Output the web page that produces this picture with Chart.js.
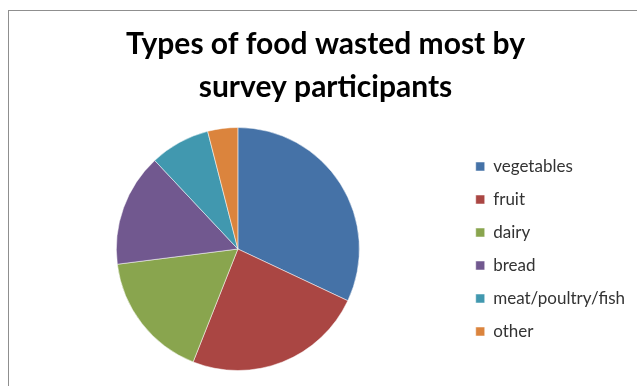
<!DOCTYPE html>
<html>
<head>
<meta charset="utf-8">
<script src="https://cdn.jsdelivr.net/npm/chart.js@4/dist/chart.umd.min.js"></script>
<style>
  html, body { margin: 0; padding: 0; background: #fff; overflow: hidden; }
  #wrap { position: relative; width: 637px; height: 386px; }
  #myChart { position: absolute; left: 0; top: 0; }
  #frame { position: absolute; left: 8px; top: 10px; right: -5px; bottom: -5px;
           border-top: 1px solid #8f8f8f; border-left: 1px solid #8f8f8f; pointer-events: none; }
</style>
</head>
<body>
<div id="wrap">
  <canvas id="myChart" width="637" height="386"></canvas>
  <div id="frame"></div>
</div>
<script>
const titleLines = ["Types of food wasted most by", "survey participants"];
const categories = ["vegetables", "fruit", "dairy", "bread", "meat/poultry/fish", "other"];
const shares = [32, 24, 17, 15, 8, 4];
const sliceColors = ["#4572A7", "#AA4643", "#89A54E", "#71588F", "#4198AF", "#DB843D"];

const ctx = document.getElementById('myChart');

let myChart = new Chart(ctx, {
    type: 'pie',
    data: {
        labels: categories,
        datasets: [{
            data: shares,
            backgroundColor: sliceColors,
            borderColor: "rgba(255,255,255,0.5)",
            borderWidth: 1
        }]
    },
    options: {
        responsive: false,
        animation: false,
        devicePixelRatio: 1,
        layout: {
            padding: { left: 16, right: 2, top: 0, bottom: 15 }
        },
        plugins: {
            title: {
                display: true,
                text: titleLines,
                color: "#000",
                font: { family: "Lato", size: 30, weight: "bold", lineHeight: "43px" },
                padding: { top: 23, bottom: 18 }
            },
            legend: {
                position: 'right',
                fullSize: false,
                labels: {
                    boxWidth: 9,
                    boxHeight: 9,
                    padding: 16,
                    color: "#333",
                    font: { family: "Lato", size: 17 }
                }
            },
            tooltip: { enabled: false }
        }
    }
});
</script>
</body>
</html>
